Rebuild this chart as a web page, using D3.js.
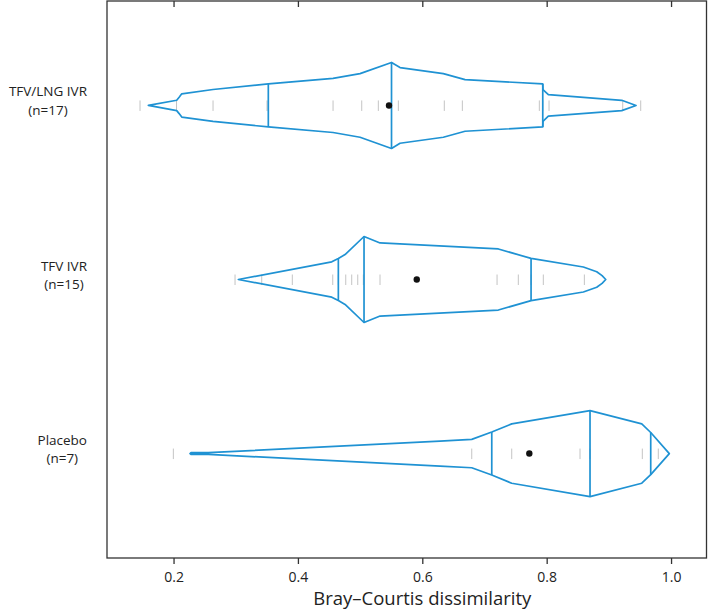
<!DOCTYPE html>
<html>
<head>
<meta charset="utf-8">
<script src="https://cdn.jsdelivr.net/npm/d3@7"></script>
<style>
  body { margin: 0; background: #fff; }
  svg { display: block; font-family: "Open Sans", "Noto Sans", sans-serif; }
</style>
</head>
<body>
<div class="canvas"></div>
<script>
const [width, height] = [708, 613];

// groups, top to bottom
const groupNames = ['TFV/LNG IVR', 'TFV IVR', 'Placebo'];
const groupN = [17, 15, 7];

// outline of each bean: value along x and relative half width (1 = widest)
const outlineValues = [
  [0.1595, 0.2051, 0.2090, 0.2132, 0.2635, 0.3524, 0.4565, 0.4999, 0.5505, 0.5642, 0.6338, 0.6687, 0.7937, 0.7940, 0.8027, 0.9207, 0.9437],
  [0.3042, 0.4544, 0.4650, 0.4758, 0.5063, 0.5321, 0.7223, 0.7749, 0.8590, 0.8805, 0.8891, 0.8950],
  [0.2265, 0.2281, 0.2560, 0.6285, 0.6795, 0.7117, 0.7438, 0.8697, 0.9529, 0.9673, 0.9972]
];
const outlineDensity = [
  [0, 0.12, 0.19, 0.27, 0.37, 0.50, 0.63, 0.74, 1.0, 0.88, 0.74, 0.60, 0.50, 0.37, 0.25, 0.12, 0],
  [0, 0.41, 0.49, 0.58, 1.0, 0.85, 0.71, 0.49, 0.29, 0.18, 0.09, 0],
  [0, 0.02, 0.02, 0.29, 0.33, 0.50, 0.69, 1.0, 0.69, 0.49, 0]
];

// quartile lines (Q1, median, Q3) and means
const quartiles = [
  [0.3524, 0.5505, 0.7937],
  [0.4650, 0.5063, 0.7749],
  [0.7117, 0.8697, 0.9673]
];
const means = [0.5465, 0.5911, 0.7721];

// individual observations (rug)
const rugValues = [
  [0.1461, 0.2048, 0.2635, 0.3503, 0.3524, 0.4565, 0.5026, 0.5293, 0.5505, 0.5615, 0.6354, 0.6644, 0.7882, 0.7937, 0.8038, 0.9223, 0.9512],
  [0.2989, 0.3418, 0.3910, 0.4560, 0.4650, 0.4769, 0.4865, 0.4962, 0.5052, 0.5320, 0.7202, 0.7544, 0.7749, 0.7946, 0.8606],
  [0.1997, 0.6795, 0.7438, 0.8536, 0.8697, 0.9538, 0.9795]
];

const xTicks = [0.2, 0.4, 0.6, 0.8, 1.0];

const margin = { left: 107, right: 1.5, top: 1, bottom: 55 };
const blue = '#1f92d3';

const svg = d3.select('.canvas')
  .append('svg')
  .attr('width', width)
  .attr('height', height);

const x = d3.scaleLinear()
  .domain([0.093, 1.057])
  .range([margin.left, width - margin.right]);

const y = d3.scalePoint()
  .domain(d3.range(groupNames.length))
  .range([margin.top, height - margin.bottom])
  .padding(0.6);

const w = d3.scaleLinear().domain([0, 1]).range([0, 43]);

// half width at any value
function densityAt(i, v) {
  const xs = outlineValues[i], ds = outlineDensity[i];
  for (let k = 0; k < xs.length - 1; k++) {
    if (v >= xs[k] && v <= xs[k + 1]) {
      const t = (v - xs[k]) / (xs[k + 1] - xs[k] || 1);
      return ds[k] + t * (ds[k + 1] - ds[k]);
    }
  }
  return 0;
}

const line = d3.line();

groupNames.forEach((name, i) => {
  const cy = y(i);
  const g = svg.append('g');

  // rug
  g.selectAll('line.rug')
    .data(rugValues[i])
    .enter()
    .append('line')
    .attr('class', 'rug')
    .attr('x1', d => x(d)).attr('x2', d => x(d))
    .attr('y1', cy - 5).attr('y2', cy + 5.5)
    .attr('stroke', '#c4c4c4')
    .attr('stroke-width', 1);

  // bean outline
  const upper = outlineValues[i].map((v, k) => [x(v), cy - w(outlineDensity[i][k])]);
  const lower = outlineValues[i].map((v, k) => [x(v), cy + w(outlineDensity[i][k])]).reverse();
  g.append('path')
    .attr('d', line(upper.concat(lower)) + 'Z')
    .attr('fill', 'none')
    .attr('stroke', blue)
    .attr('stroke-width', 1.7)
    .attr('stroke-linejoin', 'round');

  // quartile lines
  g.selectAll('line.q')
    .data(quartiles[i])
    .enter()
    .append('line')
    .attr('class', 'q')
    .attr('x1', d => x(d)).attr('x2', d => x(d))
    .attr('y1', d => cy - w(densityAt(i, d)))
    .attr('y2', d => cy + w(densityAt(i, d)))
    .attr('stroke', blue)
    .attr('stroke-width', 1.7);

  // mean
  g.append('circle')
    .attr('cx', x(means[i]))
    .attr('cy', cy)
    .attr('r', 3.2)
    .attr('fill', '#111');

  // group label: two centred lines, block right aligned
  const label = svg.append('g')
    .attr('font-size', 13.5)
    .attr('fill', '#222');
  const texts = label.selectAll('text')
    .data([name, `(n=${groupN[i]})`])
    .enter()
    .append('text')
    .attr('text-anchor', 'middle')
    .attr('y', (d, k) => cy - 9 + k * 18.6)
    .text(d => d);
  const maxW = d3.max(texts.nodes(), n => n.getComputedTextLength());
  texts.attr('x', 87 - maxW / 2);
});

// frame
svg.append('rect')
  .attr('x', margin.left)
  .attr('y', margin.top)
  .attr('width', width - margin.right - margin.left)
  .attr('height', height - margin.bottom - margin.top)
  .attr('fill', 'none')
  .attr('stroke', '#333')
  .attr('stroke-width', 1.3);

// bottom axis
const xAxis = svg.append('g')
  .attr('transform', `translate(0,${height - margin.bottom})`)
  .call(d3.axisBottom(x).tickValues(xTicks).tickSize(6).tickSizeOuter(0).tickPadding(8).tickFormat(d3.format('.1f')));
xAxis.select('.domain').remove();
xAxis.selectAll('line').attr('stroke', '#333').attr('stroke-width', 1.3);
xAxis.selectAll('text')
  .attr('font-size', 14)
  .attr('font-family', '"Open Sans", "Noto Sans", sans-serif')
  .attr('fill', '#222');

// top ticks pointing inward
const topAxis = svg.append('g')
  .attr('transform', `translate(0,${margin.top})`)
  .call(d3.axisBottom(x).tickValues(xTicks).tickSize(6).tickFormat(''));
topAxis.select('.domain').remove();
topAxis.selectAll('line').attr('stroke', '#333').attr('stroke-width', 1.3);

svg.append('text')
  .attr('x', x(0.6))
  .attr('y', 605)
  .attr('text-anchor', 'middle')
  .attr('font-size', 18.5)
  .attr('fill', '#222')
  .text('Bray–Courtis dissimilarity');
</script>
</body>
</html>
